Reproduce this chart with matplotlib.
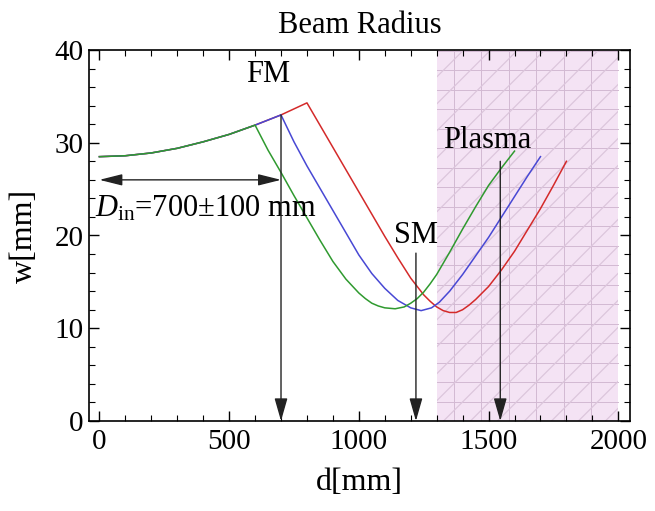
import numpy as np
import matplotlib
matplotlib.use('Agg')
import matplotlib.pyplot as plt
from matplotlib.patches import Rectangle
from matplotlib.ticker import MultipleLocator

plt.rcParams['font.family'] = ['Liberation Serif', 'DejaVu Serif']
plt.rcParams['mathtext.fontset'] = 'custom'
plt.rcParams['mathtext.rm'] = 'Liberation Serif'
plt.rcParams['mathtext.it'] = 'Liberation Serif:italic'

# shared beam growth before the focusing mirror
d_pre = [0, 100, 200, 300, 400, 500, 600, 700, 800]
w_pre = [28.5, 28.6, 28.9, 29.4, 30.1, 30.9, 31.9, 33.0, 34.3]

# after the focusing mirror (D_in = 600 / 700 / 800 mm)
green_d = [600, 650, 700, 750, 800, 850, 900, 950, 1000, 1025, 1050, 1075, 1100, 1140,
           1175, 1200, 1225, 1250, 1275, 1300, 1350, 1400, 1450, 1500, 1550, 1600]
green_w = [31.9, 29.2, 26.8, 24.3, 21.9, 19.5, 17.2, 15.3, 13.8, 13.2, 12.7, 12.4, 12.2, 12.1,
           12.3, 12.7, 13.2, 13.9, 14.8, 15.8, 18.2, 20.7, 23.1, 25.4, 27.3, 29.1]
blue_d = [700, 750, 800, 850, 900, 950, 1000, 1050, 1100, 1150, 1200, 1240,
          1280, 1310, 1350, 1400, 1450, 1500, 1550, 1600, 1650, 1700]
blue_w = [33.0, 30.1, 27.5, 25.1, 22.7, 20.3, 17.9, 15.9, 14.3, 13.0, 12.2, 11.9,
          12.2, 12.8, 14.0, 15.8, 17.8, 19.8, 22.0, 24.2, 26.4, 28.5]
red_d = [800, 850, 900, 950, 1000, 1050, 1100, 1150, 1200, 1250, 1275, 1300, 1325, 1350,
         1375, 1400, 1425, 1450, 1500, 1550, 1600, 1650, 1700, 1750, 1800]
red_w = [34.3, 31.9, 29.5, 27.1, 24.7, 22.3, 19.9, 17.6, 15.4, 13.6, 12.9, 12.3, 11.9, 11.7,
         11.7, 12.0, 12.5, 13.1, 14.5, 16.3, 18.3, 20.6, 22.9, 25.4, 28.0]

fm_d, fm_top = 700, 33.0
sm_d, sm_top = 1220, 18.1
plasma_d, plasma_top = 1545, 28.0
plasma_start, plasma_end = 1300, 2000
din_w = 26.0


def full_curve(d_post, w_post):
    d = [x for x in d_pre if x < d_post[0]] + d_post
    w = [y for x, y in zip(d_pre, w_pre) if x < d_post[0]] + w_post
    return d, w


fig = plt.figure(figsize=(6.55, 5.11), dpi=100)
ax = fig.add_axes([89 / 655, 90 / 511, 541 / 655, 371 / 511])
ax.set_xlim(-40, 2045)
ax.set_ylim(0, 40)

# plasma region: pink fill, mesh and diagonal hatch
rect = Rectangle((plasma_start, 0), plasma_end - plasma_start, 40,
                 facecolor='#f4e3f4', edgecolor='none', zorder=0)
ax.add_patch(rect)
for x in np.arange(1366, plasma_end, 106):
    ax.plot([x, x], [0, 40], color='#d2b9d2', lw=0.7, zorder=0.5)
for y in np.arange(2.1, 40, 2.1):
    ax.plot([plasma_start, plasma_end], [y, y], color='#d2b9d2', lw=0.7, zorder=0.5)
slope = (541 / 2085) / (371 / 40)
run = 40 / slope
for c in np.arange(plasma_start - run, plasma_end, 104):
    ln, = ax.plot([c, c + run], [0, 40], color='#dcc6dc', lw=0.9, zorder=0.6)
    ln.set_clip_path(rect)

for (dd, ww), col in [(full_curve(red_d, red_w), '#d42a2a'),
                      (full_curve(blue_d, blue_w), '#4848d4'),
                      (full_curve(green_d, green_w), '#2f9a2f')]:
    ax.plot(dd, ww, color=col, lw=1.1, zorder=3)

arrow = dict(arrowstyle='-|>,head_length=1.4,head_width=0.4', color='#222222',
             lw=1.0, shrinkA=0, shrinkB=0, mutation_scale=10)
for xd, top in [(fm_d, fm_top), (sm_d, sm_top), (plasma_d, plasma_top)]:
    ax.annotate('', xy=(xd, 0), xytext=(xd, top), arrowprops=arrow, zorder=4)

ax.annotate('', xy=(0, din_w), xytext=(fm_d, din_w),
            arrowprops=dict(arrowstyle='<|-|>,head_length=1.4,head_width=0.35',
                            color='#222222', lw=1.0, shrinkA=0, shrinkB=0,
                            mutation_scale=10), zorder=4)

ax.text(650, 37.4, 'FM', fontsize=22, ha='center', va='center')
ax.text(1221, 20.0, 'SM', fontsize=22, ha='center', va='center')
ax.text(1495, 30.2, 'Plasma', fontsize=22, ha='center', va='center')
ax.text(-15, 22.0, r'$D_{\mathrm{in}}$=700±100 mm', fontsize=22, ha='left', va='baseline')

ax.xaxis.set_major_locator(MultipleLocator(500))
ax.xaxis.set_minor_locator(MultipleLocator(100))
ax.yaxis.set_major_locator(MultipleLocator(10))
ax.yaxis.set_minor_locator(MultipleLocator(2))
ax.tick_params(which='both', direction='in', top=True, right=True, labelsize=21)
ax.tick_params(axis='x', pad=6)
ax.tick_params(axis='y', pad=4)
ax.tick_params(which='major', length=7, width=1.0)
ax.tick_params(which='minor', length=4, width=0.8)
for s in ax.spines.values():
    s.set_linewidth(1.2)

ax.set_title('Beam Radius', fontsize=22, pad=12)
ax.set_xlabel('d[mm]', fontsize=23, labelpad=9)
ax.set_ylabel('w[mm]', fontsize=23, labelpad=11)

fig.savefig('out.png', dpi=100)
plt.close(fig)
